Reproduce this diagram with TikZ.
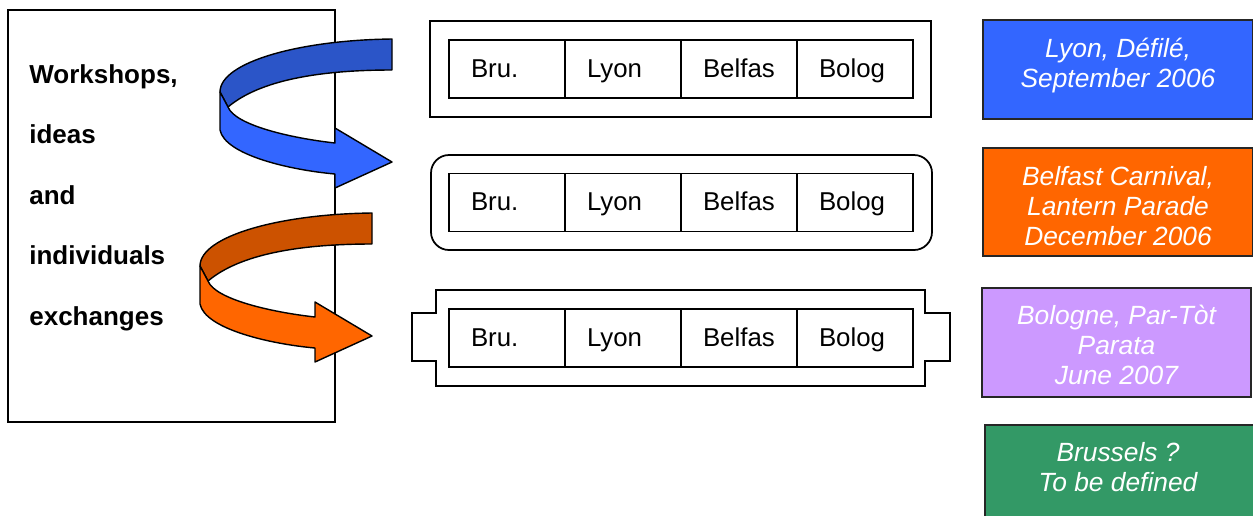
\documentclass[tikz,border=0pt]{standalone}
\usepackage{fontspec}
\setmainfont{Liberation Sans}
\usetikzlibrary{positioning}
\definecolor{evblue}{HTML}{3366FF}
\definecolor{evbluedark}{HTML}{2B55C8}
\definecolor{evorange}{HTML}{FF6600}
\definecolor{evorangedark}{HTML}{CC5200}
\definecolor{evpurple}{HTML}{CC99FF}
\definecolor{evgreen}{HTML}{339966}

\tikzset{
  frame/.style={line width=1pt},
  cell/.style={draw, line width=1pt, minimum height=1.16cm, text width=1.44cm,
    text height=10.5pt, text depth=1pt,
    inner xsep=0.44cm, inner ysep=0pt, align=left, font=\fontsize{14.7}{17}\selectfont},
  event/.style={draw=black!85, line width=1pt, minimum width=5.4cm},
  eventtext/.style={text=white, align=center, inner sep=0pt,
    font=\fontsize{15}{17.1}\selectfont\itshape},
  topic/.style={anchor=base west, inner sep=0pt, font=\fontsize{14.8}{17}\selectfont\bfseries},
  pics/swirl/.style 2 args={code={
    \filldraw[fill=#1, line width=0.8pt, line join=round] (392,39) .. controls (300,40) and (220,62) .. (220,92)
      -- (228,107) .. controls (260,80) and (320,70) .. (392,70) -- cycle;
    \filldraw[fill=#2, line width=0.8pt, line join=round] (220,92) -- (220,130) .. controls (225,155) and (290,170) .. (335,174)
      -- (335,188) -- (392,162) -- (335,128) -- (335,143) .. controls (290,138) and (235,125) .. (228,107) -- cycle;
  }},
}

\begin{document}
\begin{tikzpicture}[x=0.02cm, y=-0.02cm]
        \useasboundingbox (0,0) rectangle (1253,515);
        \draw[frame] (8,10) rectangle (335,422);
        \foreach \w [count=\i] in {{Workshops,},ideas,and,individuals,exchanges}
            \node[topic] (topic\i) at (29,{83+60.5*(\i-1)}) {\w};
        \pic at (0,0) {swirl={evbluedark}{evblue}};
        \pic at (-20,174) {swirl={evorangedark}{evorange}};
        \draw[frame] (430,21) rectangle (931,117);
        \draw[frame, rounded corners=0.36cm] (431,155) rectangle (932,250);
        \draw[frame] (436,290) -- (925,290) -- (925,313) -- (950,313) -- (950,361) -- (925,361)
            -- (925,386) -- (436,386) -- (436,361) -- (412,361) -- (412,313) -- (436,313) -- cycle;
        \foreach \y [count=\r] in {69,202.5,338}
            \foreach \city [count=\c] in {Bru.,Lyon,Belfas,Bolog}
                \node[cell] (cell\r\c) at ({391+116*\c},\y) {\city};
        \node[event, fill=evblue, minimum height=1.98cm] (lyon) at (1118,69.5) {};
        \node[eventtext] (lyontxt) at (1118,65.5) {Lyon, Défilé,\\September 2006};
        \node[event, fill=evorange, minimum height=2.16cm] (belfast) at (1118,202) {};
        \node[eventtext] (belfasttxt) at (1118,206) {Belfast Carnival,\\Lantern Parade\\December 2006};
        \node[event, fill=evpurple, minimum width=5.38cm, minimum height=2.18cm] (bologne) at (1116.5,342.5) {};
        \node[eventtext] (bolognetxt) at (1116.5,345) {Bologne, Par-Tòt\\Parata\\June 2007};
        \node[event, fill=evgreen, minimum width=5.46cm, minimum height=2cm] (brussels) at (1121.5,475) {};
        \node[eventtext] (brusselstxt) at (1118,467) {Brussels ?\\To be defined};
\end{tikzpicture}
\end{document}
